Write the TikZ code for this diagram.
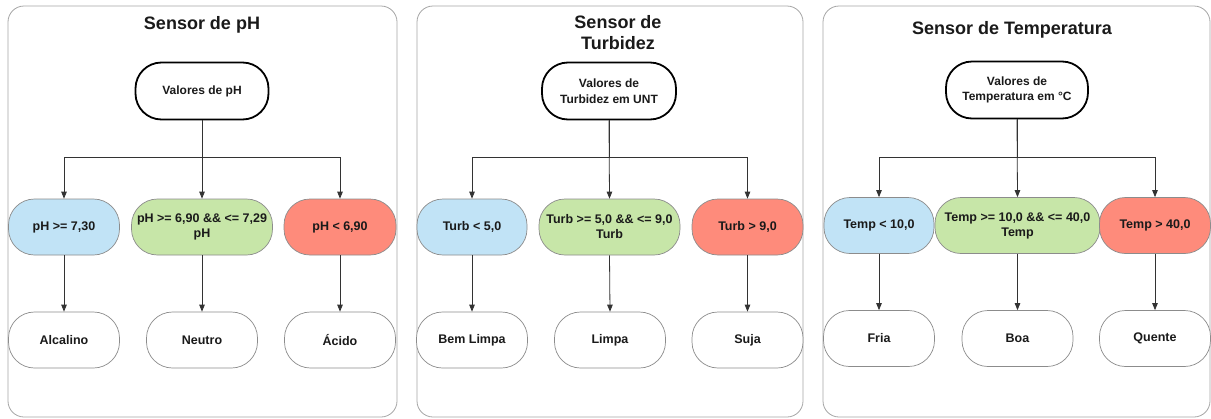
\documentclass[tikz,border=0pt]{standalone}
\usepackage{fontspec}
\setmainfont{Liberation Sans}
\usetikzlibrary{arrows.meta}
\definecolor{bluef}{HTML}{C1E3F6}
\definecolor{greenf}{HTML}{C7E6A8}
\definecolor{redf}{HTML}{FE8B7B}
\definecolor{edgegray}{HTML}{8C8C8C}
\definecolor{panelgray}{HTML}{A6A6A6}
\definecolor{linec}{HTML}{333333}
\definecolor{txt}{HTML}{1A1A1A}
\tikzset{
  panel/.style={draw=panelgray, line width=0.8pt, rounded corners=16pt},
  ttl/.style={font=\fontsize{18}{21}\selectfont\bfseries, text=txt, align=center},
  topbox/.style={draw=black, line width=1.8pt, rounded corners=26pt, fill=white,
    minimum height=57pt, inner sep=0pt, align=center, text=txt,
    font=\fontsize{12}{15.5}\selectfont\bfseries},
  midbox/.style={draw=edgegray, line width=0.7pt, rounded corners=26pt,
    minimum height=56pt, inner sep=0pt, align=center, text=txt,
    font=\fontsize{12.5}{15}\selectfont\bfseries},
  botbox/.style={draw=edgegray, line width=0.7pt, rounded corners=26pt, fill=white,
    minimum height=56pt, minimum width=111pt, inner sep=0pt, align=center, text=txt,
    font=\fontsize{12.5}{14}\selectfont\bfseries},
  conn/.style={draw=linec, line width=0.8pt},
  arr/.style={conn, -{Triangle[length=7pt,width=5.5pt]}}
}
\begin{document}
\begin{tikzpicture}[x=1pt,y=-1pt]
\useasboundingbox[fill=white] (0,0) rectangle (1211,418);
% panels
\draw[panel] (8,6) rectangle (397,417);
\draw[panel] (417,6) rectangle (803,417);
\draw[panel] (823,6) rectangle (1210,417);
% titles
\node[ttl] (t1) at (202,25) {Sensor de pH};
\node[ttl] (t2) at (618,33) {Sensor de\\Turbidez};
\node[ttl] (t3) at (1012,30) {Sensor de Temperatura};
% panel 1
\node[topbox, minimum width=133pt] (a0) at (202,91) {Valores de pH};
\node[midbox, fill=bluef, minimum width=111pt] (a1) at (64,227) {pH >= 7,30};
\node[midbox, fill=greenf, minimum width=141pt] (a2) at (202,227) {pH >= 6,90 \&\& <= 7,29\\pH};
\node[midbox, fill=redf, minimum width=112pt] (a3) at (340,227) {pH < 6,90};
\node[botbox] (a4) at (64,340) {Alcalino};
\node[botbox] (a5) at (202,340) {Neutro};
\node[botbox] (a6) at (340,340) {Ácido};
\coordinate (aj) at (202,157);
\draw[conn] (a0.south) -- (aj);
\draw[arr] (aj) -| (a1.north);
\draw[arr] (aj) -| (a3.north);
\draw[arr] (a0.south) -- (a2.north);
\draw[arr] (a1.south) -- (a4.north);
\draw[arr] (a2.south) -- (a5.north);
\draw[arr] (a3.south) -- (a6.north);
% panel 2
\node[topbox, minimum width=134pt] (b0) at (609,91) {Valores de\\Turbidez em UNT};
\node[midbox, fill=bluef, minimum width=110pt] (b1) at (472,227) {Turb < 5,0};
\node[midbox, fill=greenf, minimum width=141pt] (b2) at (609.5,227) {Turb >= 5,0 \&\& <= 9,0\\Turb};
\node[midbox, fill=redf, minimum width=111pt] (b3) at (747.5,227) {Turb > 9,0};
\node[botbox] (b4) at (472,340) {Bem Limpa};
\node[botbox] (b5) at (610,340) {Limpa};
\node[botbox] (b6) at (747.5,340) {Suja};
\coordinate (bj) at (609,157);
\draw[conn] (b0.south) -- (bj);
\draw[arr] (bj) -| (b1.north);
\draw[arr] (bj) -| (b3.north);
\draw[arr] (b0.south) -- (b2.north);
\draw[arr] (b1.south) -- (b4.north);
\draw[arr] (b2.south) -- (b5.north);
\draw[arr] (b3.south) -- (b6.north);
% panel 3
\node[topbox, minimum width=142pt] (c0) at (1017,90) {Valores de\\Temperatura em °C};
\node[midbox, fill=bluef, minimum width=110pt] (c1) at (879,225.5) {Temp < 10,0};
\node[midbox, fill=greenf, minimum width=165pt] (c2) at (1017.5,225.5) {Temp >= 10,0 \&\& <= 40,0\\Temp};
\node[midbox, fill=redf, minimum width=111pt] (c3) at (1155,225.5) {Temp > 40,0};
\node[botbox] (c4) at (879,338.5) {Fria};
\node[botbox] (c5) at (1017.5,338.5) {Boa};
\node[botbox] (c6) at (1155,338.5) {Quente};
\coordinate (cj) at (1017,157);
\draw[conn] (c0.south) -- (cj);
\draw[arr] (cj) -| (c1.north);
\draw[arr] (cj) -| (c3.north);
\draw[arr] (c0.south) -- (c2.north);
\draw[arr] (c1.south) -- (c4.north);
\draw[arr] (c2.south) -- (c5.north);
\draw[arr] (c3.south) -- (c6.north);
\end{tikzpicture}
\end{document}
